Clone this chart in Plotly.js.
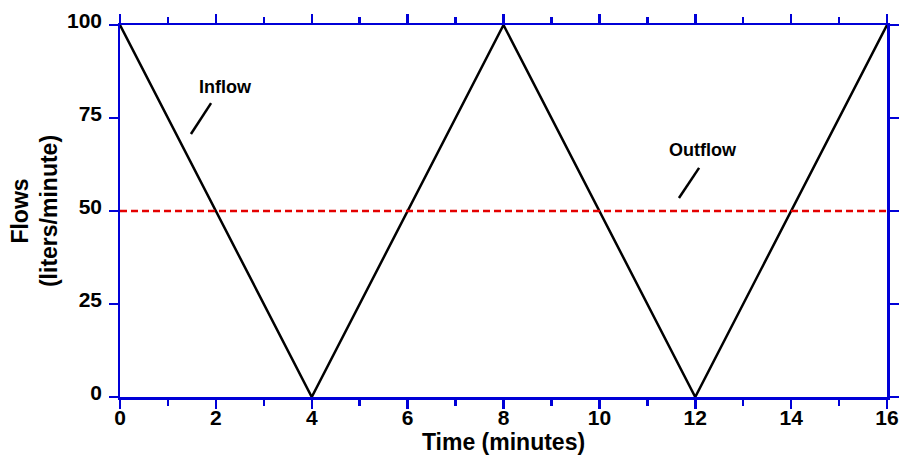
<!DOCTYPE html>
<html>
<head>
<meta charset="utf-8">
<script src="https://cdn.plot.ly/plotly-3.0.1.min.js"></script>
<style>
  html, body { margin: 0; padding: 0; background: #fff; }
  #chart { width: 908px; height: 456px; }
</style>
</head>
<body>
<div id="chart"></div>
<script>
const time = [0, 4, 8, 12, 16];
const inflow = [100, 0, 100, 0, 100];
const outflowTime = [0, 16];
const outflow = [50, 50];
const xTicks = [0, 2, 4, 6, 8, 10, 12, 14, 16];
const yTicks = [0, 25, 50, 75, 100];

const blue = "rgb(0,0,215)";
const font = "Liberation Sans, Arial, sans-serif";

const traces = [
    {
        x: time,
        y: inflow,
        type: "scatter",
        mode: "lines",
        line: {color: "black", width: 2.5},
        hoverinfo: "skip"
    },
    {
        x: outflowTime,
        y: outflow,
        xaxis: "x2",
        yaxis: "y2",
        type: "scatter",
        mode: "lines",
        line: {color: "rgb(228,0,0)", width: 2.5, dash: "7px,4px"},
        hoverinfo: "skip"
    }
];

// frame axes: line + ticks only
const frameAxis = {
    ticks: "outside",
    ticklen: 9,
    tickwidth: 2.5,
    tickcolor: blue,
    showline: true,
    linecolor: blue,
    linewidth: 2.5,
    mirror: "ticks",
    showgrid: false,
    zeroline: false,
    showticklabels: false
};

// label axes: overlaid, carry tick labels and titles
const labelAxis = {
    ticks: "",
    showline: false,
    showgrid: false,
    zeroline: false,
    tickfont: {family: font, size: 21, weight: "bold"}
};

const layout = {
    width: 908,
    height: 456,
    margin: {l: 120, r: 21, t: 25, b: 59},
    showlegend: false,
    paper_bgcolor: "white",
    plot_bgcolor: "white",
    font: {family: font, size: 17, color: "black", weight: "bold"},
    xaxis: Object.assign({}, frameAxis, {
        range: [0, 16],
        tickvals: xTicks,
        minor: {dtick: 1, ticks: "outside", ticklen: 6, tickwidth: 2.5, tickcolor: blue}
    }),
    yaxis: Object.assign({}, frameAxis, {
        range: [0, 100],
        tickvals: yTicks
    }),
    xaxis2: Object.assign({}, labelAxis, {
        overlaying: "x",
        side: "bottom",
        anchor: "y2",
        range: [0, 16],
        tickvals: xTicks,
        ticklabelstandoff: 6,
        title: {text: "Time (minutes)", standoff: 2, font: {family: font, size: 23, weight: "bold"}}
    }),
    yaxis2: Object.assign({}, labelAxis, {
        overlaying: "y",
        side: "left",
        anchor: "x2",
        range: [0, 100],
        tickvals: yTicks,
        ticklabelstandoff: 17,
        ticklabelshift: -4,
        title: {text: "Flows<br>(liters/minute)", standoff: 2, font: {family: font, size: 23, weight: "bold"}}
    }),
    shapes: [
        {type: "line", xref: "x", yref: "y", x0: 1.90, y0: 79.0, x1: 1.48, y1: 70.7,
         line: {color: "black", width: 2.5}},
        {type: "line", xref: "x", yref: "y", x0: 12.08, y0: 61.6, x1: 11.66, y1: 53.5,
         line: {color: "black", width: 2.5}}
    ],
    annotations: [
        {x: 2.20, y: 83.3, xref: "x", yref: "y", text: "Inflow", showarrow: false,
         font: {family: font, size: 18, weight: "bold"}},
        {x: 12.16, y: 66.3, xref: "x", yref: "y", text: "Outflow", showarrow: false,
         font: {family: font, size: 18, weight: "bold"}}
    ]
};

Plotly.newPlot("chart", traces, layout, {displayModeBar: false, staticPlot: true});
</script>
</body>
</html>
